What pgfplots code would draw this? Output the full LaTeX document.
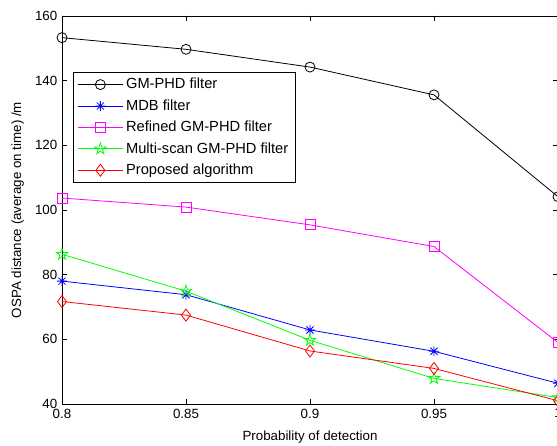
\documentclass[border=0pt]{standalone}
\usepackage{fontspec}
\setmainfont{Liberation Sans}
\usepackage{pgfplots}
\pgfplotsset{compat=1.18}
\usetikzlibrary{plotmarks}

\definecolor{mblue}{rgb}{0,0,1}
\definecolor{mmagenta}{rgb}{1,0,1}
\definecolor{mgreen}{rgb}{0,1,0}
\definecolor{mred}{rgb}{1,0,0}

% matlab-like marks
\pgfdeclareplotmark{mstar}{%
  \pgfpathmoveto{\pgfqpoint{0pt}{\pgfplotmarksize}}%
  \pgfpathlineto{\pgfqpoint{0pt}{-\pgfplotmarksize}}%
  \pgfpathmoveto{\pgfqpoint{\pgfplotmarksize}{0pt}}%
  \pgfpathlineto{\pgfqpoint{-\pgfplotmarksize}{0pt}}%
  \pgfpathmoveto{\pgfqpoint{0.7071\pgfplotmarksize}{0.7071\pgfplotmarksize}}%
  \pgfpathlineto{\pgfqpoint{-0.7071\pgfplotmarksize}{-0.7071\pgfplotmarksize}}%
  \pgfpathmoveto{\pgfqpoint{-0.7071\pgfplotmarksize}{0.7071\pgfplotmarksize}}%
  \pgfpathlineto{\pgfqpoint{0.7071\pgfplotmarksize}{-0.7071\pgfplotmarksize}}%
  \pgfusepathqstroke}
\pgfdeclareplotmark{pentagram}{%
  \pgfpathmoveto{\pgfqpointpolar{90}{\pgfplotmarksize}}%
  \pgfpathlineto{\pgfqpointpolar{126}{0.382\pgfplotmarksize}}%
  \pgfpathlineto{\pgfqpointpolar{162}{\pgfplotmarksize}}%
  \pgfpathlineto{\pgfqpointpolar{198}{0.382\pgfplotmarksize}}%
  \pgfpathlineto{\pgfqpointpolar{234}{\pgfplotmarksize}}%
  \pgfpathlineto{\pgfqpointpolar{270}{0.382\pgfplotmarksize}}%
  \pgfpathlineto{\pgfqpointpolar{306}{\pgfplotmarksize}}%
  \pgfpathlineto{\pgfqpointpolar{342}{0.382\pgfplotmarksize}}%
  \pgfpathlineto{\pgfqpointpolar{18}{\pgfplotmarksize}}%
  \pgfpathlineto{\pgfqpointpolar{54}{0.382\pgfplotmarksize}}%
  \pgfpathclose
  \pgfusepathqstroke}
\pgfdeclareplotmark{msquare}{%
  \pgfpathmoveto{\pgfqpoint{-\pgfplotmarksize}{-\pgfplotmarksize}}%
  \pgfpathlineto{\pgfqpoint{\pgfplotmarksize}{-\pgfplotmarksize}}%
  \pgfpathlineto{\pgfqpoint{\pgfplotmarksize}{\pgfplotmarksize}}%
  \pgfpathlineto{\pgfqpoint{-\pgfplotmarksize}{\pgfplotmarksize}}%
  \pgfpathclose
  \pgfusepathqstroke}

\begin{document}
\begin{tikzpicture}
\begin{axis}[
    width=372pt, height=291pt,
    scale only axis,
    xmin=0.8, xmax=1, ymin=40, ymax=160,
    xtick={0.8,0.85,0.9,0.95,1},
    ytick={40,60,80,100,120,140,160},
    xticklabels={0.8,0.85,0.9,0.95,1},
    tick align=inside,
    major tick length=4pt,
    axis line style={line width=0.6pt},
    tick style={line width=0.5pt, black},
    /pgf/number format/assume math mode=true,
    ticklabel style={font=\fontsize{10}{12}\selectfont},
    label style={font=\fontsize{10}{12}\selectfont},
    xlabel={Probability of detection},
    ylabel={OSPA distance (average on time) /m},
    xlabel style={yshift=-3pt},
    ylabel style={yshift=1.5pt},
    every axis plot/.append style={line width=0.6pt, mark options={solid, line width=0.6pt}},
    legend style={at={(rel axis cs:0.022,0.856)}, anchor=north west,
        draw=black, line width=0.6pt, fill=white,
        font=\fontsize{11}{13}\selectfont,
        inner xsep=3pt, inner ysep=2.5pt, row sep=2.6pt},
    legend cell align=left,
    legend image code/.code={
        \draw[mark repeat=2, mark phase=2] plot coordinates {(0pt,0pt) (17pt,0pt) (34pt,0pt)};
    },
]
\addplot[black, mark=o, mark size=3.75pt] coordinates {
    (0.8,153.3) (0.85,149.7) (0.9,144.2) (0.95,135.6) (1,104.1)};
\addlegendentry{GM-PHD filter}
\addplot[mblue, mark=mstar, mark size=3.75pt] coordinates {
    (0.8,78.0) (0.85,73.8) (0.9,62.9) (0.95,56.3) (1,46.4)};
\addlegendentry{MDB filter}
\addplot[mmagenta, mark=msquare, mark size=3.75pt] coordinates {
    (0.8,103.7) (0.85,100.9) (0.9,95.4) (0.95,88.7) (1,59.0)};
\addlegendentry{Refined GM-PHD filter}
\addplot[mgreen, mark=pentagram, mark size=4.5pt] coordinates {
    (0.8,86.3) (0.85,74.9) (0.9,59.7) (0.95,47.9) (1,42.0)};
\addlegendentry{Multi-scan GM-PHD filter}
\addplot[mred, mark=diamond, mark size=4.5pt] coordinates {
    (0.8,71.7) (0.85,67.5) (0.9,56.4) (0.95,51.0) (1,41.0)};
\addlegendentry{Proposed algorithm}
\end{axis}
\pgfresetboundingbox
\path ([shift={(-46.5pt,-31.5pt)}]current axis.south west) rectangle ([shift={(371.25pt,303pt)}]current axis.south west);
\end{tikzpicture}
\end{document}
